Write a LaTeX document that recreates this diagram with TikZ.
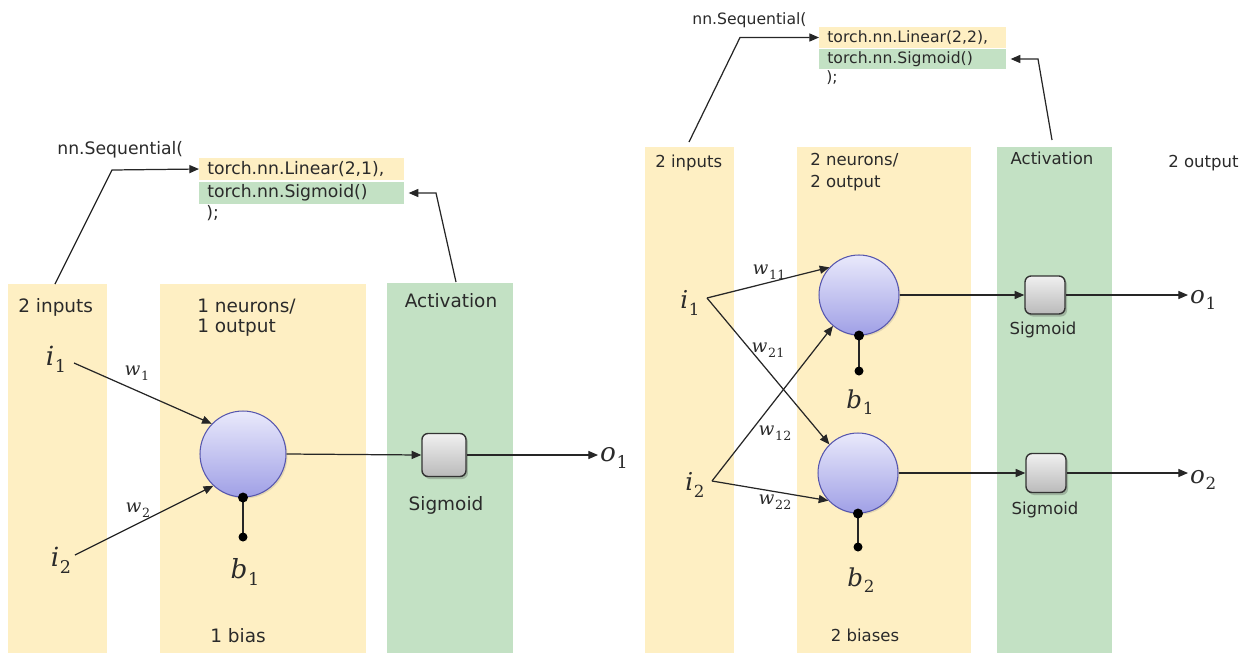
\documentclass[tikz,border=0pt]{standalone}
\usepackage{fontspec}
\setmainfont{DejaVu Sans}
\newfontfamily\mserif{DejaVu Serif}
\usetikzlibrary{arrows.meta,shadows,calc}

\definecolor{bandY}{HTML}{FEEFC3}
\definecolor{bandG}{HTML}{C3E1C4}
\definecolor{ink}{HTML}{2A2A2A}
\definecolor{nTop}{HTML}{E9E9FB}
\definecolor{nBot}{HTML}{A0A0E6}
\definecolor{nEdge}{HTML}{5656AE}
\definecolor{sTop}{HTML}{F0F0F0}
\definecolor{sBot}{HTML}{BABABA}

\newcommand\txtL{\fontsize{10.5}{11.4}\selectfont}
\newcommand\txtR{\fontsize{9.4}{12.4}\selectfont}
\newcommand\codeL{\fontsize{9.8}{11}\selectfont}
\newcommand\codeR{\fontsize{8.9}{10}\selectfont}

% italic symbol with an upright subscript: #1 size, #2 subscript size, #3 drop
\newcommand\symb[5]{{\mserif\fontsize{#1}{#1}\selectfont\itshape #4\kern0.4pt%
  \raisebox{-#3}{\fontsize{#2}{#2}\selectfont\upshape #5}}}
\newcommand\bigsym[2]{\symb{15pt}{10pt}{4pt}{#1}{#2}}
\newcommand\midsym[2]{\symb{14pt}{9.5pt}{3.7pt}{#1}{#2}}
\newcommand\wsym[1]{\symb{10.5pt}{7.2pt}{2.6pt}{w}{#1}}

\tikzset{
  band/.style={rectangle, inner sep=0pt, anchor=north west, draw=none},
  yband/.style={band, fill=bandY},
  gband/.style={band, fill=bandG},
  codeline/.style={rectangle, anchor=west, inner ysep=0pt, inner xsep=0.16cm,
                   align=left, text=ink},
  plain/.style={inner sep=0pt, text=ink},
  neuron/.style={circle, draw=nEdge, line width=0.6pt, top color=nTop,
                 bottom color=nBot, inner sep=0pt,
                 drop shadow={shadow xshift=0.03cm, shadow yshift=-0.03cm,
                              opacity=0.18, fill=black!60}},
  sigbox/.style={rectangle, rounded corners=0.12cm, draw=black!80,
                 line width=0.8pt, top color=sTop, bottom color=sBot,
                 inner sep=0pt,
                 drop shadow={shadow xshift=0.04cm, shadow yshift=-0.05cm,
                              opacity=0.3, fill=black!70}},
  arr/.style={draw=black!85, line width=0.7pt,
              -{Triangle[length=5.5pt,width=4.6pt]}},
  conn/.style={draw=black!85, line width=0.7pt},
  dot/.style={fill=black},
}

\begin{document}
\begin{tikzpicture}[x=0.02cm,y=-0.02cm]
\useasboundingbox (0,0) rectangle (1258,653);

% ---------------- one input pair, one neuron ----------------
\node[yband, minimum width=1.98cm, minimum height=7.38cm] (inL) at (8,284) {};
\node[yband, minimum width=4.12cm, minimum height=7.38cm] (neuL) at (160,284) {};
\node[gband, minimum width=2.52cm, minimum height=7.40cm] (actL) at (387,283) {};

\node[plain, anchor=west, font=\txtL] (tInL) at (18,307) {2 inputs};
\node[plain, anchor=west, align=left, font=\txtL] (tNeuL) at (197,318) {1 neurons/\\1 output};
\node[plain, font=\txtL] (tActL) at (451,301) {Activation};
\node[plain, font=\txtL] (tBiasL) at (238,636) {1 bias};

% code listing
\node[plain, anchor=west, font=\codeL] (seqL) at (57,150) {nn.Sequential(};
\node[codeline, fill=bandY, minimum height=0.44cm, text width=3.78cm, font=\codeL]
  (linL) at (199,169) {torch.nn.Linear(2,1),};
\node[codeline, fill=bandG, minimum height=0.44cm, text width=3.78cm, font=\codeL]
  (sigL) at (199,193) {torch.nn.Sigmoid()};
\node[plain, anchor=west, font=\codeL] (endL) at (206,213) {);};

\coordinate (aL0) at (55,284);
\coordinate (aL1) at (112,170);
\draw[arr] (aL0) -- (aL1) -- (linL.west);
\coordinate (bL0) at (456,282);
\coordinate (bL1) at (436,193);
\draw[arr] (bL0) -- (bL1) -- ([xshift=0.08cm]sigL.east);

% network
\node[plain] (iL1) at (56,359) {\bigsym{i}{1}};
\node[plain] (iL2) at (61,560) {\bigsym{i}{2}};
\coordinate (iL1s) at (74,363);
\coordinate (iL2s) at (75,555);

\node[neuron, minimum size=1.72cm] (nL) at (243,454) {};
\node[sigbox, minimum width=0.88cm, minimum height=0.86cm] (sL) at (444,455) {};
\node[plain, font=\txtL] (tSigL) at (446,505) {Sigmoid};
\node[plain, anchor=west, inner sep=1pt] (oL) at (598,458) {\bigsym{o}{1}};

\draw[arr] (iL1s) -- (nL.136);
\draw[arr] (iL2s) -- (nL.227);
\node[plain] (wL1) at (137,373) {\wsym{1}};
\node[plain] (wL2) at (138,510) {\wsym{2}};
\draw[arr] (nL.east) -- (sL.west);
\draw[arr] (sL.east) -- (sL.east -| oL.west);

\coordinate (bLd) at (243,537);
\draw[conn] (nL.south) -- (bLd);
\fill[dot] (nL.south) circle (0.1cm);
\fill[dot] (bLd) circle (0.09cm);
\node[plain] (bL) at (245,572) {\bigsym{b}{1}};

% ---------------- two inputs, two neurons ----------------
\node[yband, minimum width=1.78cm, minimum height=10.12cm] (inR) at (645,147) {};
\node[yband, minimum width=3.48cm, minimum height=10.12cm] (neuR) at (797,147) {};
\node[gband, minimum width=2.30cm, minimum height=10.12cm] (actR) at (997,147) {};

\node[plain, anchor=west, font=\txtR] (tInR) at (655,163) {2 inputs};
\node[plain, anchor=west, align=left, font=\txtR] (tNeuR) at (810,172) {2 neurons/\\2 output};
\node[plain, font=\txtR] (tActR) at (1052,158) {Activation};
\node[plain, anchor=west, font=\txtR] (tOutR) at (1168,163) {2 output};
\node[plain, font=\txtR] (tBiasR) at (865,635) {2 biases};

% code listing
\node[plain, anchor=west, font=\codeR] (seqR) at (692,20) {nn.Sequential(};
\node[codeline, fill=bandY, minimum height=0.42cm, text width=3.42cm, font=\codeR]
  (linR) at (819,37.5) {torch.nn.Linear(2,2),};
\node[codeline, fill=bandG, minimum height=0.40cm, text width=3.42cm, font=\codeR]
  (sigR) at (819,59) {torch.nn.Sigmoid()};
\node[plain, anchor=west, font=\codeR] (endR) at (826,78) {);};

\coordinate (aR0) at (689,142);
\coordinate (aR1) at (740,37.5);
\draw[arr] (aR0) -- (aR1) -- (linR.west);
\coordinate (bR0) at (1052,140);
\coordinate (bR1) at (1038,59);
\draw[arr] (bR0) -- (bR1) -- ([xshift=0.08cm]sigR.east);

% network
\node[plain] (iR1) at (690,303) {\midsym{i}{1}};
\node[plain] (iR2) at (695,485) {\midsym{i}{2}};
\coordinate (iR1s) at (707,298);
\coordinate (iR2s) at (712,481);

\node[neuron, minimum size=1.6cm] (nR1) at (859,295) {};
\node[neuron, minimum size=1.6cm] (nR2) at (858,473) {};
\node[sigbox, minimum width=0.80cm, minimum height=0.76cm] (sR1) at (1045,295) {};
\node[sigbox, minimum width=0.80cm, minimum height=0.78cm] (sR2) at (1046,473) {};
\node[plain, font=\txtR] (tSigR1) at (1043,330) {Sigmoid};
\node[plain, font=\txtR] (tSigR2) at (1045,510) {Sigmoid};
\node[plain, anchor=west, inner sep=1pt] (oR1) at (1188,300) {\midsym{o}{1}};
\node[plain, anchor=west, inner sep=1pt] (oR2) at (1188,480) {\midsym{o}{2}};

\draw[arr] (iR1s) -- (nR1.137);
\draw[arr] (iR1s) -- (nR2.135);
\draw[arr] (iR2s) -- (nR1.230);
\draw[arr] (iR2s) -- (nR2.223);
\node[plain] (w11) at (769,272) {\wsym{11}};
\node[plain] (w21) at (768,350) {\wsym{21}};
\node[plain] (w12) at (775,433) {\wsym{12}};
\node[plain] (w22) at (775,502) {\wsym{22}};

\draw[arr] (nR1.east) -- (sR1.west);
\draw[arr] (nR2.east) -- (sR2.west);
\draw[arr] (sR1.east) -- (sR1.east -| oR1.west);
\draw[arr] (sR2.east) -- (sR2.east -| oR2.west);

\coordinate (bR1d) at (859,371);
\coordinate (bR2d) at (858,547);
\draw[conn] (nR1.south) -- (bR1d);
\draw[conn] (nR2.south) -- (bR2d);
\fill[dot] (nR1.south) circle (0.1cm);
\fill[dot] (bR1d) circle (0.09cm);
\fill[dot] (nR2.south) circle (0.1cm);
\fill[dot] (bR2d) circle (0.09cm);
\node[plain] (bR1) at (860,402) {\midsym{b}{1}};
\node[plain] (bR2) at (861,580) {\midsym{b}{2}};
\end{tikzpicture}
\end{document}
